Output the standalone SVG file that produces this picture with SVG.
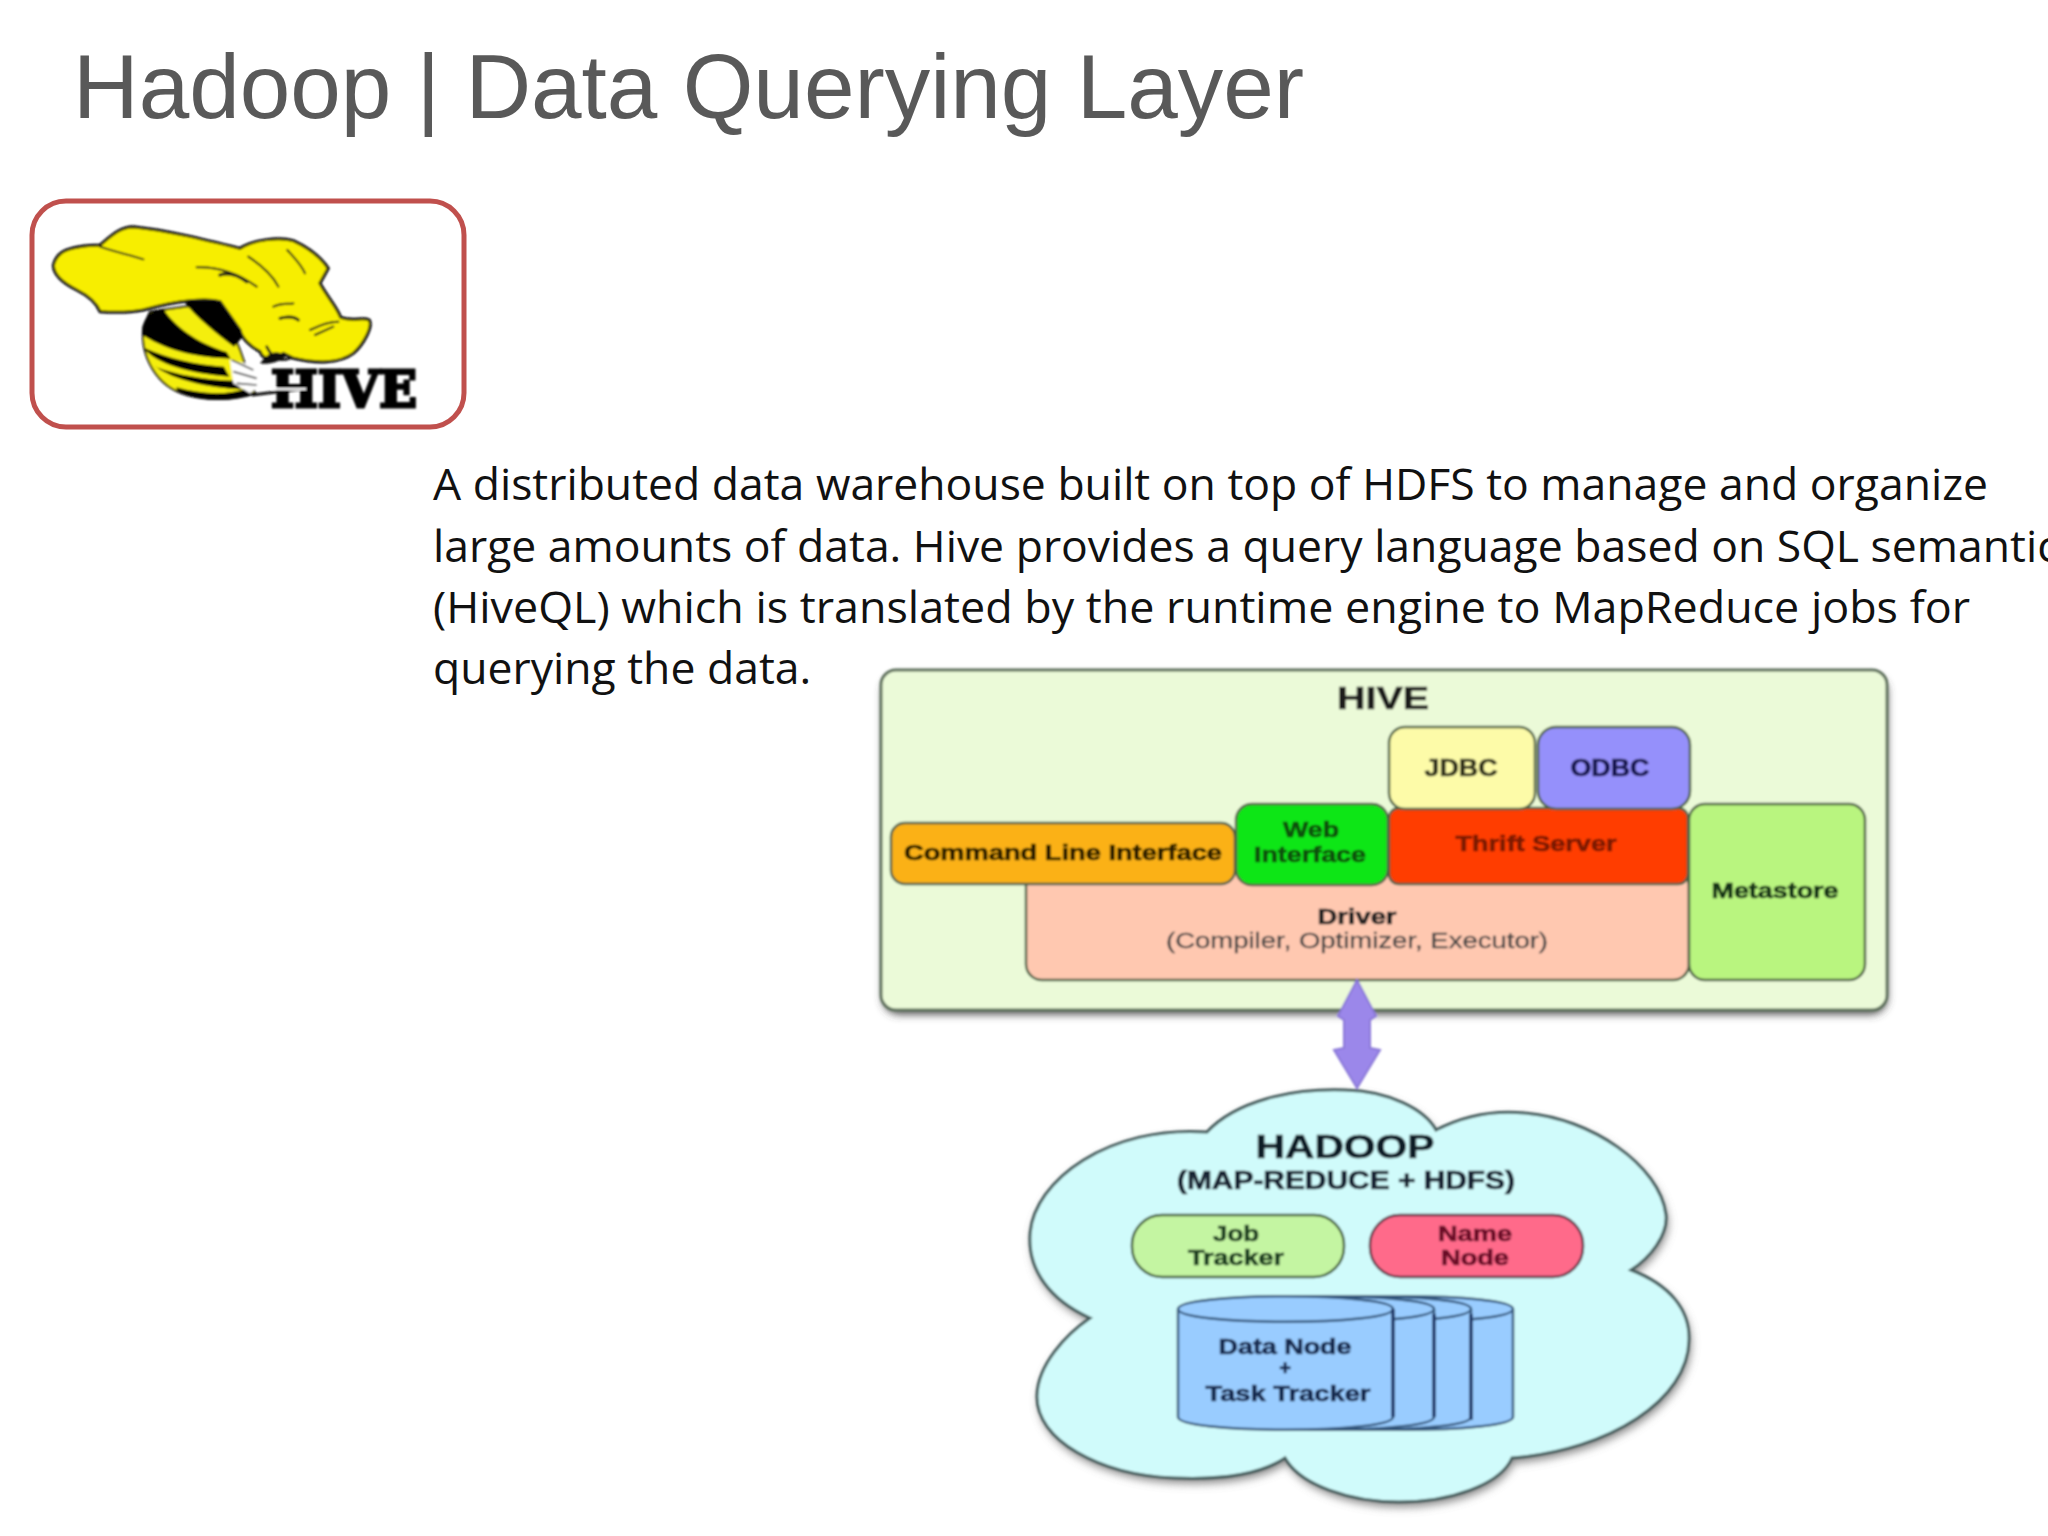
<svg xmlns="http://www.w3.org/2000/svg" width="2048" height="1536" viewBox="0 0 2048 1536">
<defs>
<filter id="soft" x="-5%" y="-5%" width="110%" height="110%"><feGaussianBlur stdDeviation="1.15"/></filter>
<filter id="shadow" x="-5%" y="-5%" width="110%" height="115%"><feGaussianBlur stdDeviation="4"/></filter>
</defs>
<style>
text{font-family:"Liberation Sans",Arial,sans-serif;text-anchor:middle}
.b{font-weight:700;stroke-width:.7}
.body{font-family:"Open Sans","Noto Sans",sans-serif;font-size:44.5px;fill:#111;text-anchor:start}
.box{stroke:#4d6045;stroke-width:2.5}
.cyl{fill:#99ccff;stroke:#33557a;stroke-width:2.5}
.front{stroke:#1d3566;stroke-width:3.5}
</style>
<rect width="2048" height="1536" fill="#fff"/>
<g id="title"><text x="73" y="118" font-size="91" fill="#595959" style="text-anchor:start" textLength="1231" lengthAdjust="spacingAndGlyphs">Hadoop | Data Querying Layer</text></g>
<g id="description">
<text class="body" x="433" y="500">A distributed data warehouse built on top of HDFS to manage and organize</text>
<text class="body" x="433" y="562">large amounts of data. Hive provides a query language based on SQL semantics</text>
<text class="body" x="433" y="623" textLength="1537" lengthAdjust="spacingAndGlyphs">(HiveQL) which is translated by the runtime engine to MapReduce jobs for</text>
<text class="body" x="433" y="684">querying the data.</text>
</g>
<g id="hive-logo">
<rect x="32" y="201" width="432" height="226" rx="34" fill="#fff" stroke="#c0504d" stroke-width="5"/>
<g filter="url(#soft)">
<g transform="translate(0 170) scale(.33333)">
<path d="M430 470C420 560 470 650 560 675C620 692 700 692 765 668L720 540L660 395L450 425Z" fill="#f4ee10" stroke="#111" stroke-width="6"/>
<path d="M550 392L660 388L738 490L702 530C650 490 590 445 550 392Z" fill="#050505"/>
<path d="M452 428C428 450 423 480 432 498C510 545 590 562 692 566L680 546C610 525 530 480 490 416Z" fill="#050505"/>
<path d="M430 535C470 582 570 612 688 620L672 590C590 585 500 565 436 535Z" fill="#050505"/>
<path d="M468 590C520 630 620 652 725 658L705 632C620 630 530 615 465 590Z" fill="#050505"/>
<path d="M530 660C590 695 690 700 768 672L740 655C680 678 600 672 530 652Z" fill="#050505"/>
<path d="M690 570L780 590L770 625L790 640L750 670L700 640Z" fill="#fff"/>
<path d="M695 570L760 600M700 605L770 625M710 640L770 645" fill="none" stroke="#444" stroke-width="5"/>
<path d="M160 285C170 245 200 228 300 225C330 200 360 170 400 170C500 180 620 210 720 235C760 208 840 200 880 212C930 235 965 265 985 295L960 340C985 385 1010 410 1022 442C1060 455 1090 440 1108 450C1120 470 1090 525 1060 550C1020 580 950 582 880 565L850 550C830 570 790 575 780 545C750 530 725 505 720 480L660 395C620 385 540 390 430 420C380 430 340 428 300 425C290 400 270 380 230 360C190 340 160 315 160 285Z" fill="#f7ee00" stroke="#0a0a0a" stroke-width="9" stroke-linejoin="round"/>
<g fill="none" stroke="#151515" stroke-width="6" stroke-linecap="round">
<path d="M300 230C340 245 390 255 430 268"/>
<path d="M590 292C640 290 700 300 770 350"/>
<path d="M660 315C690 305 720 320 740 335" stroke-width="10"/>
<path d="M745 260C790 290 820 320 835 350"/>
<path d="M862 240C880 260 905 285 915 310"/>
<path d="M820 410C850 395 870 405 880 400"/>
<path d="M840 445C870 435 890 445 895 450" stroke-width="9"/>
<path d="M930 480C960 465 990 455 1015 455M945 495L1000 470"/>
<path d="M800 530C820 570 840 575 870 565" stroke-width="8"/>
</g>
<path d="M780 580C810 540 830 540 860 558C835 578 800 585 780 580Z" fill="#111"/>
</g>
<text x="344" y="407" font-size="50" font-weight="700" fill="#050505" stroke="#050505" stroke-width="3" textLength="146" lengthAdjust="spacingAndGlyphs" style="font-family:'DejaVu Serif','Liberation Serif',serif">HIVE</text>
<path d="M252 395L308 388" stroke="#111" stroke-width="3"/>
<path d="M272 389H306" stroke="#fff" stroke-width="2"/>
</g>
</g>
<g filter="url(#soft)">
<g id="hive-panel">
<rect x="883" y="676" width="1004" height="338" rx="16" fill="#444" filter="url(#shadow)"/>
<rect x="881" y="670" width="1006" height="340" rx="15" fill="#ebfad8" stroke="#5c6e5a" stroke-width="3"/>
<text class="b" x="1383" y="709" font-size="32" fill="#1a1a1a" stroke="#1a1a1a" textLength="92" lengthAdjust="spacingAndGlyphs">HIVE</text>
</g>
<g id="driver"><rect class="box" x="1026" y="870" width="663" height="110" rx="16" fill="#ffc8b0"/>
<text class="b" x="1357" y="924" font-size="22" fill="#222" stroke="#222" textLength="79" lengthAdjust="spacingAndGlyphs">Driver</text>
<text x="1357" y="948" font-size="22" fill="#444" stroke="#444" stroke-width=".3" textLength="382" lengthAdjust="spacingAndGlyphs">(Compiler, Optimizer, Executor)</text></g>
<g id="cli"><rect class="box" x="891" y="823" width="344" height="61" rx="14" fill="#fbb117"/>
<text class="b" x="1063" y="860" font-size="22" fill="#2a1f00" stroke="#2a1f00" textLength="318" lengthAdjust="spacingAndGlyphs">Command Line Interface</text></g>
<g id="web-interface"><rect class="box" x="1236" y="804" width="152" height="81" rx="16" fill="#11e619"/>
<text class="b" x="1311" y="837" font-size="22" fill="#0c4f10" stroke="#0c4f10" textLength="56" lengthAdjust="spacingAndGlyphs">Web</text>
<text class="b" x="1310" y="862" font-size="22" fill="#0c4f10" stroke="#0c4f10" textLength="112" lengthAdjust="spacingAndGlyphs">Interface</text></g>
<g id="thrift-server"><rect class="box" x="1389" y="808" width="299" height="76" rx="10" fill="#ff3c00" stroke="#7a2a10"/>
<text class="b" x="1536" y="851" font-size="22" fill="#7a1a00" stroke="#7a1a00" textLength="161" lengthAdjust="spacingAndGlyphs">Thrift Server</text></g>
<g id="jdbc"><rect class="box" x="1389" y="727" width="146" height="82" rx="16" fill="#fdfba8"/>
<text class="b" x="1461" y="776" font-size="23" fill="#33331c" stroke="#33331c" textLength="73" lengthAdjust="spacingAndGlyphs">JDBC</text></g>
<g id="odbc"><rect class="box" x="1538" y="727" width="152" height="82" rx="18" fill="#9590fb" stroke="#55528a"/>
<text class="b" x="1610" y="776" font-size="23" fill="#18184f" stroke="#18184f" textLength="79" lengthAdjust="spacingAndGlyphs">ODBC</text></g>
<g id="metastore"><rect class="box" x="1689" y="804" width="176" height="176" rx="16" fill="#b9f57f"/>
<text class="b" x="1775" y="898" font-size="22" fill="#123314" stroke="#123314" textLength="127" lengthAdjust="spacingAndGlyphs">Metastore</text></g>
<g id="hadoop">
<path d="M1207 1132C1235 1102 1290 1088 1345 1090C1390 1091 1425 1110 1436 1130C1465 1115 1495 1110 1525 1113C1590 1118 1660 1165 1666 1215C1668 1235 1650 1258 1631 1270C1670 1285 1690 1310 1689 1340C1688 1400 1610 1450 1512 1458C1500 1485 1450 1502 1399 1502C1350 1502 1300 1485 1285 1458C1260 1475 1220 1480 1174 1478C1100 1475 1035 1440 1037 1395C1038 1365 1065 1335 1090 1318C1050 1300 1028 1270 1030 1235C1033 1180 1110 1125 1207 1132Z" transform="translate(2 5)" fill="#888" filter="url(#shadow)"/>
<path d="M1207 1132C1235 1102 1290 1088 1345 1090C1390 1091 1425 1110 1436 1130C1465 1115 1495 1110 1525 1113C1590 1118 1660 1165 1666 1215C1668 1235 1650 1258 1631 1270C1670 1285 1690 1310 1689 1340C1688 1400 1610 1450 1512 1458C1500 1485 1450 1502 1399 1502C1350 1502 1300 1485 1285 1458C1260 1475 1220 1480 1174 1478C1100 1475 1035 1440 1037 1395C1038 1365 1065 1335 1090 1318C1050 1300 1028 1270 1030 1235C1033 1180 1110 1125 1207 1132Z" fill="#d0fbfb" stroke="#435a5a" stroke-width="3"/>
<text class="b" x="1345" y="1158" font-size="34" fill="#0d1a26" stroke="#0d1a26" textLength="179" lengthAdjust="spacingAndGlyphs">HADOOP</text>
<text class="b" x="1346" y="1189" font-size="25" fill="#162030" stroke="#162030" textLength="338" lengthAdjust="spacingAndGlyphs">(MAP-REDUCE + HDFS)</text>
</g>
<g id="job-tracker"><rect x="1132" y="1215" width="212" height="62" rx="30" fill="#c4f5a2" stroke="#3f5c38" stroke-width="2.5"/>
<text class="b" x="1236" y="1241" font-size="22" fill="#1c4020" stroke="#1c4020" textLength="46" lengthAdjust="spacingAndGlyphs">Job</text>
<text class="b" x="1236" y="1265" font-size="22" fill="#1c4020" stroke="#1c4020" textLength="96" lengthAdjust="spacingAndGlyphs">Tracker</text></g>
<g id="name-node"><rect x="1370" y="1215" width="213" height="62" rx="30" fill="#ff6b8a" stroke="#5e3344" stroke-width="2.5"/>
<text class="b" x="1475" y="1241" font-size="22" fill="#6a0c28" stroke="#6a0c28" textLength="74" lengthAdjust="spacingAndGlyphs">Name</text>
<text class="b" x="1475" y="1265" font-size="22" fill="#6a0c28" stroke="#6a0c28" textLength="68" lengthAdjust="spacingAndGlyphs">Node</text></g>
<g id="data-node">
<path class="cyl" d="M1298 1309C1298 1292 1513 1292 1513 1309V1417C1513 1434 1298 1434 1298 1417Z"/><path class="cyl" d="M1298 1309C1298 1326 1513 1326 1513 1309"/>
<path class="cyl" d="M1256 1309C1256 1292 1471 1292 1471 1309V1417C1471 1434 1256 1434 1256 1417Z"/><path class="cyl" d="M1256 1309C1256 1326 1471 1326 1471 1309"/>
<path class="cyl" d="M1219 1309C1219 1292 1434 1292 1434 1309V1417C1434 1434 1219 1434 1219 1417Z"/><path class="cyl" d="M1219 1309C1219 1326 1434 1326 1434 1309"/>
<path class="cyl" d="M1178 1309C1178 1292 1393 1292 1393 1309V1417C1393 1434 1178 1434 1178 1417Z"/><path class="cyl" d="M1178 1309C1178 1326 1393 1326 1393 1309"/>
<path d="M1393 1309V1417M1434 1314V1417M1471 1314V1420" fill="none" class="front"/>
<text class="b" x="1285" y="1354" font-size="22" fill="#15294f" stroke="#15294f" textLength="133" lengthAdjust="spacingAndGlyphs">Data Node</text>
<text class="b" x="1285" y="1375" font-size="20" fill="#15294f" stroke="#15294f">+</text>
<text class="b" x="1288" y="1401" font-size="22" fill="#15294f" stroke="#15294f" textLength="165" lengthAdjust="spacingAndGlyphs">Task Tracker</text>
</g>
<g id="connectors">
<path d="M1357 980L1376 1016L1370 1020V1048L1380 1050L1357 1088L1334 1050L1344 1048V1020L1338 1016Z" fill="#9b87ea" stroke="#8a78d8" stroke-width="2"/>
</g>
</g>
</svg>
